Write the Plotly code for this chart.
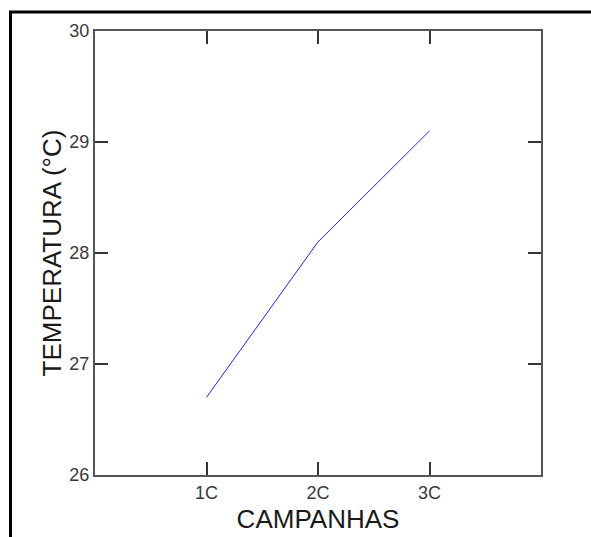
import plotly.graph_objects as go

campanhas = ["1C", "2C", "3C"]
temperatura = [26.7, 28.1, 29.1]
y_ticks = [26, 27, 28, 29, 30]

W, H = 591, 537
L, R, T, B = 95, 541, 31, 475

fig = go.Figure()
fig.add_trace(go.Scatter(x=campanhas, y=temperatura, mode="lines",
                         line=dict(color="#2222ff", width=1), showlegend=False))

axis_common = dict(showline=True, linecolor="#555555", linewidth=2, mirror="ticks",
                   ticks="inside", ticklen=13, tickwidth=1.5, tickcolor="#333333",
                   showgrid=False, zeroline=False, automargin=False,
                   tickfont=dict(family="Liberation Sans, Arial", size=18, color="#3a3a3a"))

fig.update_xaxes(type="category", categoryorder="array", categoryarray=campanhas,
                 range=[-1, 3], title=dict(text="CAMPANHAS", standoff=8,
                 font=dict(family="Liberation Sans, Arial", size=26, color="#1a1a1a")),
                 **axis_common)
fig.update_yaxes(range=[26, 30], tickvals=y_ticks,
                 title=dict(text="TEMPERATURA (°C)", standoff=0,
                 font=dict(family="Liberation Sans, Arial", size=26, color="#1a1a1a")),
                 **axis_common)

pw, ph = R - L, B - T
def px(x):
    return (x - L) / pw
def py(y):
    return (B - y) / ph

fig.add_shape(type="rect", xref="paper", yref="paper",
              x0=px(10.5), x1=px(620), y0=py(580), y1=py(12),
              line=dict(color="black", width=3), fillcolor="rgba(0,0,0,0)", layer="above")

fig.update_layout(width=W, height=H, margin=dict(l=L, r=W - R, t=T, b=H - B),
                  paper_bgcolor="white", plot_bgcolor="white",
                  font=dict(family="Liberation Sans, Arial"))

fig.write_html("out.html")
